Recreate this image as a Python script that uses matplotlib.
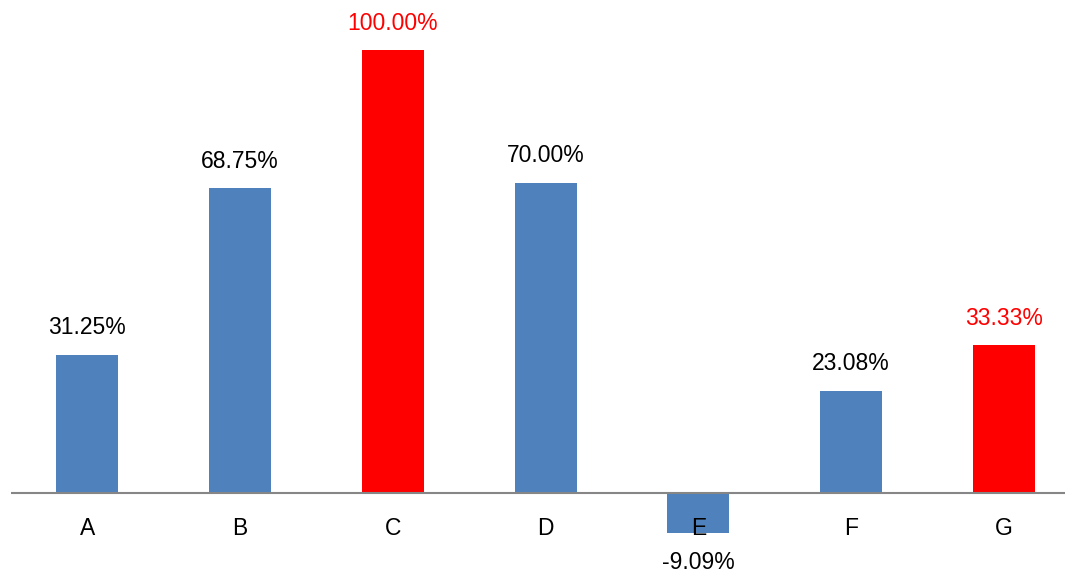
import matplotlib
matplotlib.use('Agg')
import matplotlib.pyplot as plt

categorias = ['A', 'B', 'C', 'D', 'E', 'F', 'G']
valores = [31.25, 68.75, 100.00, 70.00, -9.09, 23.08, 33.33]
destaque = [False, False, True, False, False, False, True]

azul = '#4F81BD'
vermelho = '#FF0000'

plt.rcParams['font.family'] = ['Liberation Sans', 'DejaVu Sans']

fig = plt.figure(figsize=(10.65, 5.72), dpi=100)
ax = fig.add_axes([11 / 1065, 0, 1 - 11 / 1065, 1])

cores = [vermelho if d else azul for d in destaque]
x = list(range(len(categorias)))
ax.bar(x, valores, width=0.405, color=cores, zorder=2)

ax.set_xlim(-0.5, 6.40)
ax.set_ylim(-17.83, 111.29)
ax.axhline(0, color='#868686', lw=1.5, zorder=3)

for i, v in enumerate(valores):
    cor_txt = vermelho if destaque[i] else 'black'
    if v >= 0:
        ax.annotate(f'{v:.2f}%', (i, v), xytext=(0, 27), textcoords='offset pixels',
                    ha='center', va='center', fontsize=16.5, color=cor_txt)
    else:
        ax.annotate(f'{v:.2f}%', (i, v), xytext=(0, -29), textcoords='offset pixels',
                    ha='center', va='center', fontsize=16.5, color=cor_txt)
    ax.annotate(categorias[i], (i, 0), xytext=(0, -35), textcoords='offset pixels',
                ha='center', va='center', fontsize=16.5, color='black', zorder=4)

ax.axis('off')
fig.savefig('out.png', dpi=100)
